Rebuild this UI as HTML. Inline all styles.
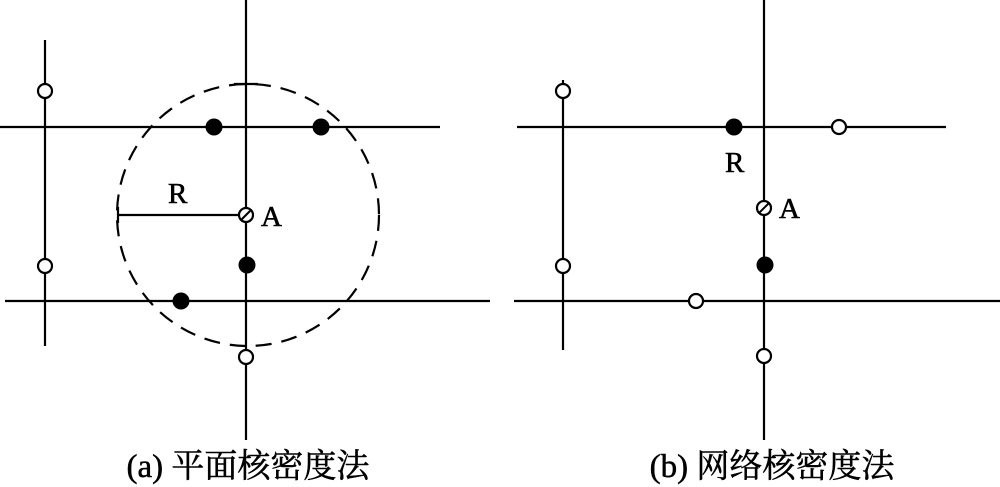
<!DOCTYPE html>
<html><head><style>body{margin:0;background:#fff}</style></head><body>
<svg width="1000" height="487" xmlns="http://www.w3.org/2000/svg" style="display:block">
<g stroke="#000" stroke-width="2.2" fill="none">
<line x1="246" y1="0" x2="246" y2="440"/>
<line x1="45" y1="40" x2="45" y2="346"/>
<line x1="0" y1="127" x2="440" y2="127"/>
<line x1="5" y1="301" x2="490" y2="301"/>
<ellipse cx="248" cy="215" rx="131" ry="131" stroke-dasharray="16,10"/>
<line x1="118" y1="215" x2="246" y2="215"/>
<line x1="118" y1="207" x2="118" y2="223"/>
<line x1="234" y1="84" x2="258" y2="84"/>
<line x1="764" y1="0" x2="764" y2="440"/>
<line x1="563" y1="80" x2="563" y2="350"/>
<line x1="517" y1="127" x2="946" y2="127"/>
<line x1="514" y1="301" x2="1000" y2="301"/>
</g>
<g fill="#000">
<circle cx="214" cy="127" r="8.5"/><circle cx="321" cy="127" r="8.5"/>
<circle cx="247" cy="265" r="8.5"/><circle cx="181" cy="301" r="8.5"/>
<circle cx="734" cy="127" r="8.5"/><circle cx="765" cy="265" r="8.5"/>
</g>
<g fill="#fff" stroke="#000" stroke-width="2.2">
<circle cx="45" cy="91" r="7"/><circle cx="45" cy="266" r="7"/><circle cx="246" cy="357" r="7"/>
<circle cx="839" cy="127" r="7"/><circle cx="563" cy="91" r="7"/><circle cx="563" cy="266" r="7"/>
<circle cx="696" cy="301" r="7"/><circle cx="764" cy="356" r="7"/>
<circle cx="246" cy="215" r="7"/><circle cx="764" cy="208" r="7"/>
</g>
<g stroke="#000" stroke-width="2">
<line x1="241" y1="220" x2="251" y2="210"/>
<line x1="759" y1="213" x2="769" y2="203"/>
</g>
<g font-family="Liberation Serif, serif" font-size="29" fill="#000" stroke="#000" stroke-width="0.6">
<text x="168" y="203">R</text>
<text x="261" y="226">A</text>
<text x="725" y="172">R</text>
<text x="779" y="218">A</text>
</g>
<g font-family="Liberation Serif, 'Noto Serif CJK SC', serif" font-size="33" fill="#000" stroke="#000" stroke-width="0.5" text-anchor="middle">
<text x="248" y="477">(a) 平面核密度法</text>
<text x="772" y="477">(b) 网络核密度法</text>
</g>
</svg>
</body></html>
